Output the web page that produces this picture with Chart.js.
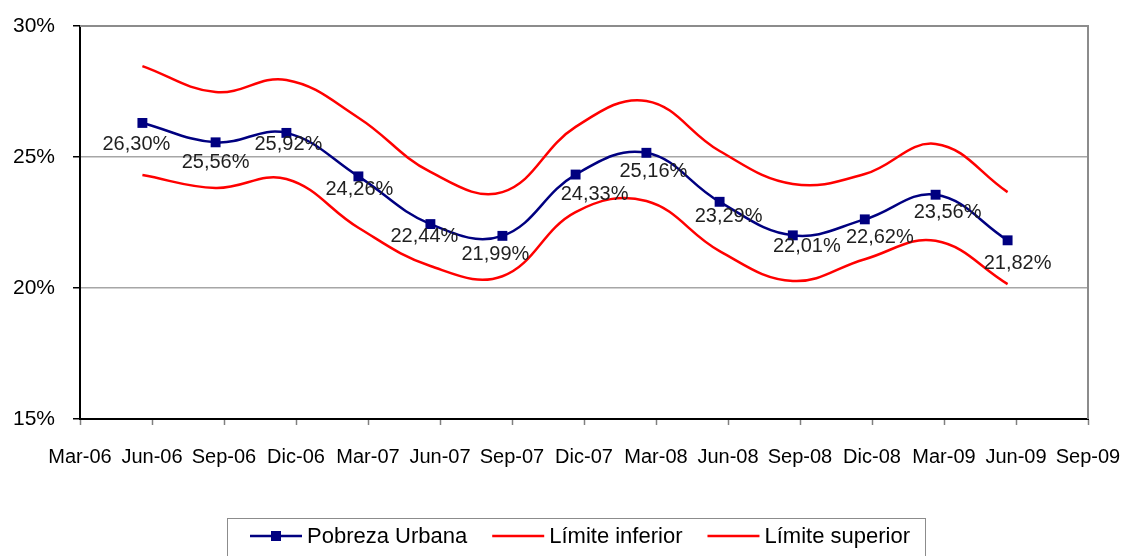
<!DOCTYPE html>
<html>
<head>
<meta charset="utf-8">
<title>Pobreza Urbana</title>
<script src="https://cdn.jsdelivr.net/npm/chart.js@4/dist/chart.umd.min.js"></script>
<style>
  html, body { margin: 0; padding: 0; background: #ffffff; }
  #wrap { width: 1123px; height: 556px; }
</style>
</head>
<body>
<div id="wrap"><canvas id="grafico" width="1123" height="556"></canvas></div>
<script>
// Etiquetas trimestrales del eje horizontal (una cada 3 meses desde Mar-06)
const etiquetasTrimestre = ['Mar-06','Jun-06','Sep-06','Dic-06','Mar-07','Jun-07','Sep-07','Dic-07',
                            'Mar-08','Jun-08','Sep-08','Dic-08','Mar-09','Jun-09','Sep-09'];

// Posición de cada medición, en meses contados desde Mar-06
const mesesMedicion = [2.6, 5.65, 8.6, 11.6, 14.6, 17.6, 20.65, 23.6, 26.65, 29.7, 32.7, 35.65, 38.65];

// Serie principal y banda de confianza (%)
const pobrezaUrbana  = [26.30, 25.56, 25.92, 24.26, 22.44, 21.99, 24.33, 25.16, 23.29, 22.01, 22.62, 23.56, 21.82];
const limiteInferior = [24.31, 23.82, 24.16, 22.30, 20.84, 20.45, 22.90, 23.32, 21.41, 20.27, 21.10, 21.80, 20.15];
const limiteSuperior = [28.47, 27.48, 27.94, 26.50, 24.43, 23.66, 26.15, 27.14, 25.23, 23.97, 24.35, 25.50, 23.66];

// Marcas del eje vertical (%)
const ejeY = { min: 15, max: 30, paso: 5 };

// Desplazamiento (px) de cada rótulo de valor respecto a su punto
const desplazRotulo = [[-6,22],[0,20],[2,12],[1,13],[-6,12],[-7,19],[19,20],[7,19],[9,15],[14,11],[15,18],[12,18],[10,23]];

const FUENTE = '"Liberation Sans", Arial, sans-serif';

const puntos = vals => vals.map((v, i) => ({ x: mesesMedicion[i], y: v }));

// Evita que los rótulos de los ejes agranden los márgenes del área de trazado
const sinRellenoEje = s => { s.paddingTop = 0; s.paddingBottom = 0; s.paddingLeft = 0; s.paddingRight = 0; };

// Rótulos de valor de la serie principal
const rotulosValor = {
  id: 'rotulosValor',
  afterDatasetsDraw(chart) {
    const ctx = chart.ctx;
    const meta = chart.getDatasetMeta(0);
    ctx.save();
    ctx.font = '20px ' + FUENTE;
    ctx.fillStyle = '#1f1f1f';
    ctx.textAlign = 'center';
    ctx.textBaseline = 'middle';
    meta.data.forEach((el, i) => {
      const v = chart.data.datasets[0].data[i].y;
      const txt = v.toFixed(2).replace('.', ',') + '%';
      const d = desplazRotulo[i] || [0, 18];
      ctx.fillText(txt, el.x + d[0], el.y + d[1]);
    });
    ctx.restore();
  }
};

// Marco gris superior y derecho del área de trazado
const marcoArea = {
  id: 'marcoArea',
  beforeDatasetsDraw(chart) {
    const { ctx, chartArea: a } = chart;
    ctx.save();
    ctx.strokeStyle = '#8c8c8c';
    ctx.lineWidth = 2;
    ctx.beginPath();
    ctx.moveTo(a.left, a.top);
    ctx.lineTo(a.right, a.top);
    ctx.lineTo(a.right, a.bottom);
    ctx.stroke();
    ctx.restore();
  }
};

// Leyenda en recuadro bajo el eje
const leyenda = {
  id: 'leyenda',
  afterDraw(chart) {
    const ctx = chart.ctx;
    ctx.save();
    ctx.strokeStyle = '#8c8c8c';
    ctx.lineWidth = 1;
    ctx.strokeRect(227.5, 518.5, 698, 60);
    ctx.font = '22px ' + FUENTE;
    ctx.textBaseline = 'middle';
    ctx.textAlign = 'left';
    let x = 250;
    const y = 536;
    chart.data.datasets.forEach(ds => {
      ctx.strokeStyle = ds.borderColor;
      ctx.lineWidth = 2.5;
      ctx.beginPath();
      ctx.moveTo(x, y);
      ctx.lineTo(x + 52, y);
      ctx.stroke();
      if (ds.pointRadius > 0) {
        ctx.fillStyle = ds.pointBackgroundColor;
        ctx.fillRect(x + 26 - 5, y - 5, 10, 10);
      }
      ctx.fillStyle = '#000000';
      ctx.fillText(ds.label, x + 57, y + 1);
      x += 57 + ctx.measureText(ds.label).width + 25;
    });
    ctx.restore();
  }
};

new Chart(document.getElementById('grafico'), {
  type: 'line',
  data: {
    datasets: [
      {
        label: 'Pobreza Urbana',
        data: puntos(pobrezaUrbana),
        borderColor: '#000080',
        backgroundColor: '#000080',
        pointBackgroundColor: '#000080',
        pointBorderColor: '#000080',
        pointStyle: 'rect',
        pointRadius: 7,
        pointBorderWidth: 0,
        borderWidth: 2.5,
        tension: 0.4,
        fill: false
      },
      {
        label: 'Límite inferior',
        data: puntos(limiteInferior),
        borderColor: '#ff0000',
        backgroundColor: '#ff0000',
        pointRadius: 0,
        borderWidth: 2.5,
        tension: 0.4,
        fill: false
      },
      {
        label: 'Límite superior',
        data: puntos(limiteSuperior),
        borderColor: '#ff0000',
        backgroundColor: '#ff0000',
        pointRadius: 0,
        borderWidth: 2.5,
        tension: 0.4,
        fill: false
      }
    ]
  },
  options: {
    responsive: false,
    animation: false,
    devicePixelRatio: 1,
    layout: { autoPadding: false, padding: { top: 26, right: 35, left: 0, bottom: 0 } },
    plugins: { legend: { display: false }, tooltip: { enabled: false } },
    scales: {
      x: {
        type: 'linear',
        min: 0,
        max: (etiquetasTrimestre.length - 1) * 3,
        ticks: {
          stepSize: 3,
          autoSkip: false,
          maxRotation: 0,
          color: '#000000',
          padding: 20,
          font: { family: FUENTE, size: 20 },
          callback: v => etiquetasTrimestre[Math.round(v / 3)]
        },
        grid: { drawOnChartArea: false, tickLength: 6, tickColor: '#808080', tickWidth: 1.5 },
        border: { color: '#000000', width: 2 },
        afterFit(s) { s.height = 137; sinRellenoEje(s); }
      },
      y: {
        min: ejeY.min,
        max: ejeY.max,
        ticks: {
          stepSize: ejeY.paso,
          color: '#000000',
          padding: 18,
          font: { family: FUENTE, size: 21 },
          callback: v => v + '%'
        },
        grid: { color: '#a6a6a6', lineWidth: 1.5, tickColor: '#000000', tickLength: 7 },
        border: { color: '#000000', width: 2 },
        afterFit(s) { s.width = 80; sinRellenoEje(s); }
      }
    }
  },
  plugins: [marcoArea, rotulosValor, leyenda]
});
</script>
</body>
</html>
